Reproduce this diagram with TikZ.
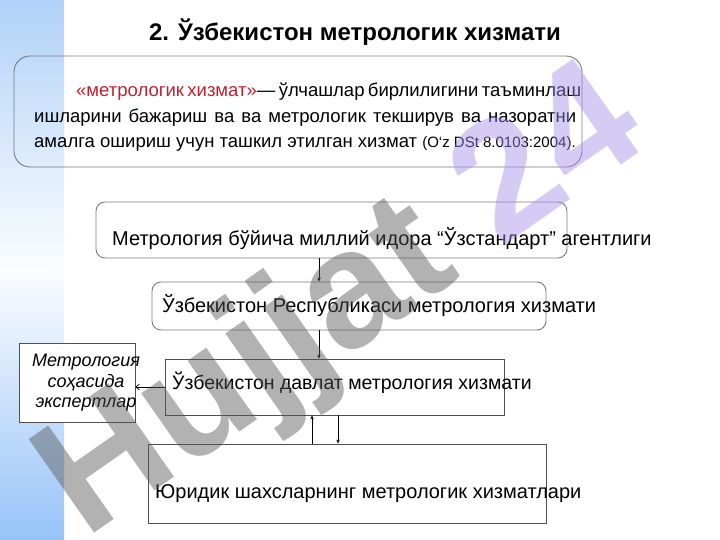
\documentclass[tikz,border=0pt]{standalone}
\usepackage{fontspec}
\setmainfont{Liberation Sans}
\usetikzlibrary{arrows.meta}
\definecolor{stripTop}{HTML}{B0D2F8}
\definecolor{stripBot}{HTML}{96C3F8}
\definecolor{defred}{RGB}{192,32,48}
\definecolor{rbord}{HTML}{7A7A7A}
\definecolor{sbord}{HTML}{505050}
\definecolor{wmgray}{HTML}{555555}
\definecolor{wmlav}{RGB}{165,140,235}
\tikzset{
  rbox/.style={draw=rbord, line width=0.9pt, rounded corners=9pt, inner sep=0pt},
  sbox/.style={draw=sbord, line width=0.8pt, inner sep=0pt},
  txt/.style={anchor=base west, inner sep=0pt, font=\fontsize{20}{23}\selectfont},
  dtxt/.style={anchor=base west, inner sep=0pt, font=\fontsize{18.5}{22}\selectfont},
  arr/.style={line width=0.7pt, -{Stealth[length=4pt,width=3.5pt]}},
  barb/.style={line width=0.7pt, -{Straight Barb[length=3.5pt,width=6pt]}},
}
\begin{document}
\begin{tikzpicture}[x=1pt,y=-1pt]
\useasboundingbox (0,0) rectangle (720,540);
\fill[white] (0,0) rectangle (720,540);
\shade[top color=stripTop, bottom color=stripBot, middle color=white!96!stripTop] (0,0) rectangle (64,540);

% title
\node[anchor=base, inner sep=0pt, font=\fontsize{24}{28}\bfseries] (title) at (355,41) {2. Ўзбекистон метрологик хизмати};

% definition box
\node[rbox, rounded corners=16pt, minimum width=568pt, minimum height=111pt] (def) at (298,111.5) {};
\node[dtxt] (d1) at (76,97) {\makebox[500pt][s]{\color{defred}«метрологик хизмат»\color{black} — ўлчашлар бирлилигини таъминлаш}};
\node[dtxt] (d2) at (34,123) {\makebox[542pt][s]{ишларини бажариш ва ва метрологик текширув ва назоратни}};
\node[dtxt] (d3) at (34,148) {амалга ошириш учун ташкил этилган хизмат {\fontsize{15}{17}\selectfont(O‘z DSt 8.0103:2004).}};

% hierarchy boxes
\node[rbox, minimum width=471pt, minimum height=56pt] (b2) at (331.5,230) {};
\node[txt] (t2) at (112,245) {Метрология бўйича миллий идора “Ўзстандарт” агентлиги};

\node[rbox, minimum width=394pt, minimum height=48pt] (b3) at (349,306) {};
\node[txt] (t3) at (162,312) {Ўзбекистон Республикаси метрология хизмати};

\node[sbox, minimum width=339pt, minimum height=56pt] (b4) at (334.5,387) {};
\node[txt, font=\fontsize{19.5}{23}\selectfont] (t4) at (172,389) {Ўзбекистон давлат метрология хизмати};

\node[sbox, fill=white, minimum width=116pt, minimum height=79pt] (bl) at (77,382.5) {};
\node[inner sep=0pt, align=center, font=\fontsize{18}{20.5}\itshape] (tl) at (86,383) {Метрология\\ соҳасида\\ экспертлар};

\node[sbox, minimum width=398pt, minimum height=79pt] (b5) at (347,483.5) {};
\node[txt] (t5) at (155,498) {Юридик шахсларнинг метрологик хизматлари};

% connectors
\coordinate (xa) at (319,0);
\coordinate (xu) at (312,0);
\coordinate (xd) at (338,0);
\draw[arr] (b2.south -| xa) -- (b3.north -| xa);
\draw[arr] (b3.south -| xa) -- (b4.north -| xa);
\draw[arr] (b5.north -| xu) -- (b4.south -| xu);
\draw[arr] (b4.south -| xd) -- (b5.north -| xd);
\draw[barb] (b4.west) -- (bl.east |- b4.west);

% watermark
\node[rotate=35, anchor=base west, inner sep=0pt, text opacity=0.45, font=\fontsize{166}{166}\bfseries] (wm) at (85,540) {\color{wmgray}Hujjat \color{wmlav}24};
\end{tikzpicture}
\end{document}
